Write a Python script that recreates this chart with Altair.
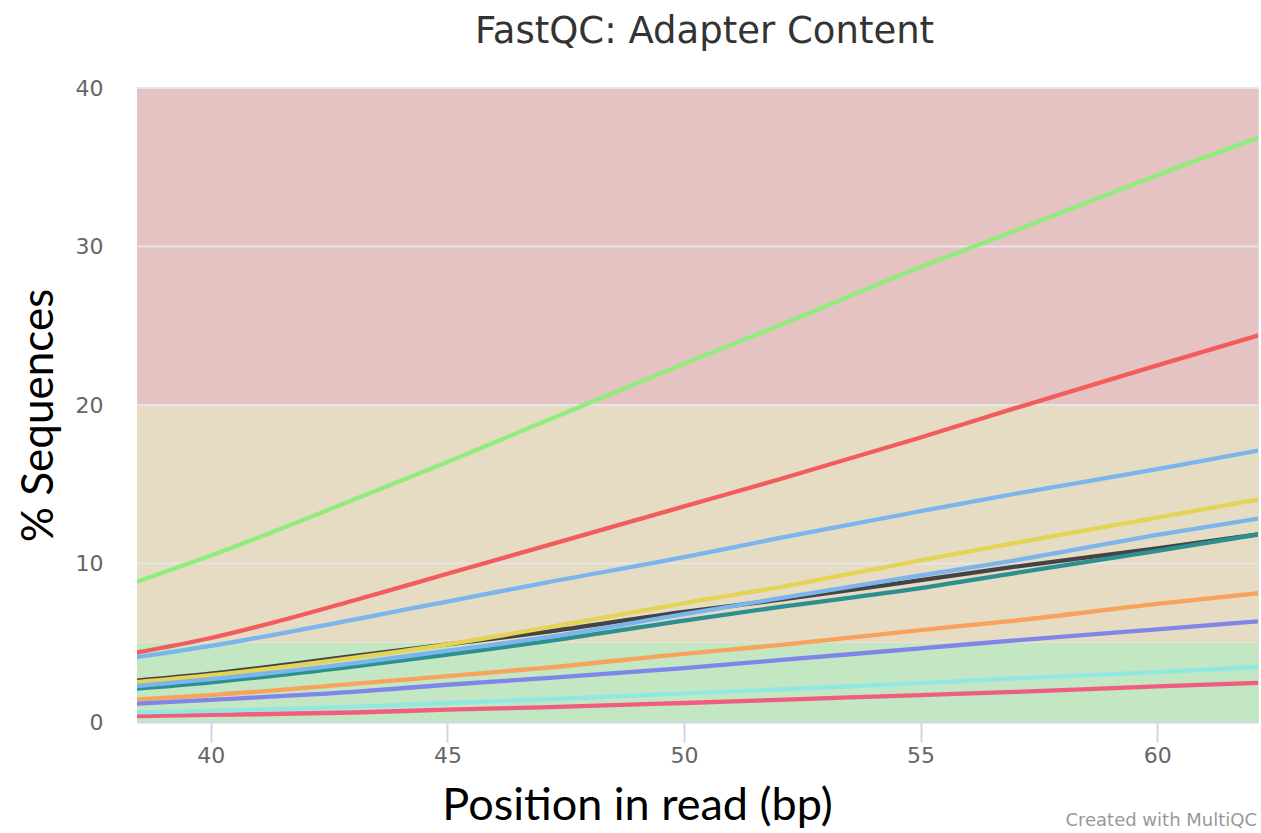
import altair as alt
import pandas as pd

# Read positions (bp) at which each sample's adapter content is given
positions = [38, 40, 43, 45, 47, 50, 52, 55, 57, 60, 63]

# Cumulative adapter content (% of sequences) per sample
sample_a = [3.9, 4.8, 6.45, 7.6, 8.75, 10.4, 11.6, 13.3, 14.4, 15.95, 17.6]
sample_b = [2.5, 3.05, 4.15, 4.9, 5.65, 6.95, 7.7, 8.95, 9.8, 10.95, 12.2]
sample_c = [8.4, 10.5, 14.0, 16.4, 18.9, 22.6, 25.0, 28.7, 31.0, 34.5, 37.8]
sample_d = [1.35, 1.7, 2.4, 2.9, 3.4, 4.3, 4.85, 5.8, 6.4, 7.45, 8.4]
sample_e = [1.1, 1.4, 1.9, 2.35, 2.75, 3.4, 3.9, 4.65, 5.15, 5.85, 6.55]
sample_f = [0.36, 0.45, 0.6, 0.78, 0.92, 1.2, 1.4, 1.7, 1.9, 2.25, 2.55]
sample_g = [2.4, 2.95, 4.05, 4.9, 5.9, 7.5, 8.5, 10.2, 11.3, 12.9, 14.5]
sample_h = [2.0, 2.5, 3.5, 4.25, 5.05, 6.4, 7.25, 8.45, 9.4, 10.8, 12.25]
sample_i = [4.15, 5.3, 7.65, 9.35, 11.05, 13.6, 15.3, 17.95, 19.8, 22.5, 25.15]
sample_j = [0.58, 0.7, 0.95, 1.2, 1.42, 1.8, 2.05, 2.45, 2.75, 3.15, 3.6]
sample_k = [2.15, 2.7, 3.7, 4.5, 5.3, 6.8, 7.8, 9.25, 10.2, 11.8, 13.25]

sample_names = ["sample_a", "sample_b", "sample_c", "sample_d", "sample_e", "sample_f",
                "sample_g", "sample_h", "sample_i", "sample_j", "sample_k"]
sample_values = [sample_a, sample_b, sample_c, sample_d, sample_e, sample_f,
                 sample_g, sample_h, sample_i, sample_j, sample_k]
sample_colors = ["#7cb5ec", "#434348", "#90ed7d", "#f7a35c", "#8085e9", "#f15c80",
                 "#e4d354", "#2b908f", "#f45b5b", "#91e8e1", "#7cb5ec"]

# Pass / warn / fail bands
band_lower = [0, 5, 20]
band_upper = [5, 20, 40]
band_colors = ["#c3e6c3", "#e6dcc3", "#e6c3c3"]

grid_values = [10, 20, 30, 40]
x_ticks = [40, 45, 50, 55, 60]
y_ticks = [0, 10, 20, 30, 40]

W, H = 1121, 634
X_DOMAIN = [38.44, 62.13]
Y_DOMAIN = [0, 40]

rows = []
for order, (name, vals) in enumerate(zip(sample_names, sample_values)):
    for p, v in zip(positions, vals):
        rows.append({"sample": name, "order": order, "pos": p, "pct": v})
lines_df = pd.DataFrame(rows)

bands_df = pd.DataFrame({"lo": band_lower, "hi": band_upper, "col": band_colors})
grid_df = pd.DataFrame({"g": grid_values})

y_scale = alt.Scale(domain=Y_DOMAIN, nice=False, zero=True)

bands = alt.Chart(bands_df).mark_rect().encode(
    x=alt.value(0),
    x2=alt.value(W),
    y=alt.Y("lo:Q", scale=y_scale, title="% Sequences",
            axis=alt.Axis(values=y_ticks, grid=False, ticks=False, domain=False,
                          labelFontSize=22, labelColor="#666666", labelFont="DejaVu Sans",
                          labelPadding=34,
                          titleFont="Lato", titleFontSize=44, titleFontWeight="normal",
                          titleColor="#000000", titleAngle=-90, titleAlign="center",
                          titleBaseline="alphabetic", titleX=-85, titleY=327)),
    y2="hi:Q",
    color=alt.Color("col:N", scale=None),
)

grid = alt.Chart(grid_df).mark_rule(color="#e6e6e6", strokeWidth=2).encode(
    x=alt.value(0),
    x2=alt.value(W),
    y=alt.Y("g:Q", scale=y_scale, title="% Sequences"),
)

lines = alt.Chart(lines_df).mark_line(strokeWidth=4.3, interpolate="monotone", clip=True).encode(
    x=alt.X("pos:Q", scale=alt.Scale(domain=X_DOMAIN, nice=False, zero=False),
            title="Position in read (bp)",
            axis=alt.Axis(values=x_ticks, grid=False, domain=True, domainColor="#ccd6eb",
                          domainWidth=2, ticks=True, tickColor="#ccd6eb", tickWidth=2,
                          tickSize=20, labelPadding=3, labelFontSize=22,
                          labelColor="#666666", labelFont="DejaVu Sans",
                          titleFont="Lato", titleFontSize=45, titleFontWeight="normal",
                          titleColor="#000000", titleAlign="center",
                          titleBaseline="alphabetic", titleX=500, titleY=97)),
    y=alt.Y("pct:Q", scale=y_scale, title="% Sequences"),
    color=alt.Color("sample:N", scale=alt.Scale(domain=sample_names, range=sample_colors),
                    legend=None),
    order=alt.Order("order:Q"),
    detail="sample:N",
)

credits = alt.Chart(pd.DataFrame({"t": ["Created with MultiQC"]})).mark_text(
    align="right", baseline="alphabetic", fontSize=18, color="#999999", font="DejaVu Sans"
).encode(
    x=alt.value(W - 1),
    y=alt.value(H + 104),
    text="t:N",
)

chart = alt.layer(bands, grid, lines, credits).properties(
    width=W,
    height=H,
    autosize="none",
    padding={"left": 137, "top": 88, "right": 3, "bottom": 111},
    title=alt.TitleParams("FastQC: Adapter Content", fontSize=37, font="DejaVu Sans",
                          fontWeight="normal", color="#333333", anchor="middle",
                          baseline="alphabetic", offset=5, dx=7, dy=8),
).configure_view(stroke=None).configure(background="white")

chart.save("out.html", embed_options={"renderer": "svg", "actions": False})
